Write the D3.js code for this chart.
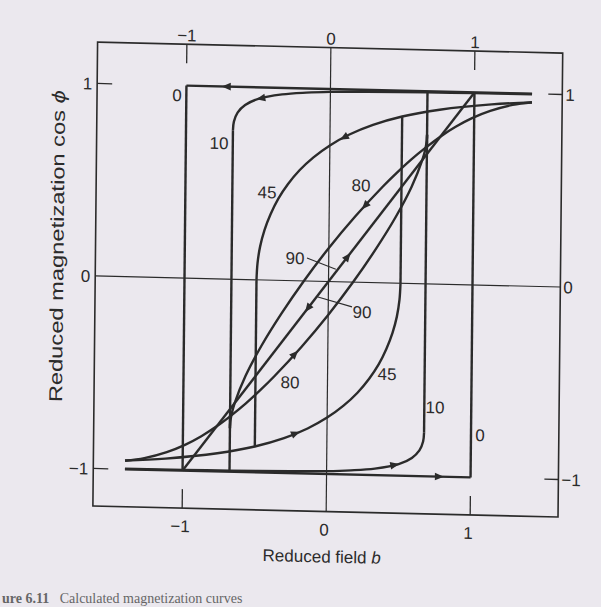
<!DOCTYPE html>
<html lang="en">
<head>
<meta charset="UTF-8">
<title>Reduced magnetization loops</title>
<style>
  body { margin: 0; background: #ebe8ee; }
  svg { display: block; }
  text { font-family: 'Liberation Sans', Arial, sans-serif; fill: #2b2b2b; }
  text.caption { font-family: 'Liberation Serif', 'DejaVu Serif', serif; fill: #666; }
</style>
</head>
<body>
<svg id="chart" width="601" height="607"></svg>
<script src="https://d3js.org/d3.v7.min.js"></script>
<script>
// tick values
const xTicks = [-1, 0, 1];
const yTicks = [-1, 0, 1];
const fieldRange = [-1.62, 1.61];
const magRange = [-1.195, 1.215];

// branches, listed in the order they are traversed  [b, cos phi]
const psi0Down = [[1.4, 1], [-1, 1]];
const psi0Up = [[-1.4, -1], [1, -1]];

const psi10Down = [[1.4, 0.9975], [0.995, 0.996], [0.666, 0.9945], [0.251, 0.99], [0, 0.985],
  [-0.168, 0.978], [-0.335, 0.966], [-0.5, 0.94], [-0.591, 0.906], [-0.643, 0.866],
  [-0.668, 0.819], [-0.674, 0.774]];
const psi10Up = [[-1.4, -0.9975], [-0.995, -0.996], [-0.666, -0.9945], [-0.251, -0.99], [0, -0.985],
  [0.168, -0.978], [0.335, -0.966], [0.5, -0.94], [0.591, -0.906], [0.643, -0.866],
  [0.668, -0.819], [0.674, -0.774]];

const psi45Down = [[1.4, 0.955], [1.12, 0.94], [0.76, 0.906], [0.5, 0.866], [0.298, 0.819],
  [0.135, 0.766], [0, 0.707], [-0.113, 0.643], [-0.209, 0.574], [-0.289, 0.5], [-0.355, 0.423],
  [-0.407, 0.342], [-0.448, 0.259], [-0.477, 0.174], [-0.494, 0.087], [-0.5, 0]];
const psi45Up = [[-1.4, -0.955], [-1.12, -0.94], [-0.76, -0.906], [-0.5, -0.866], [-0.298, -0.819],
  [-0.135, -0.766], [0, -0.707], [0.113, -0.643], [0.209, -0.574], [0.289, -0.5], [0.355, -0.423],
  [0.407, -0.342], [0.448, -0.259], [0.477, -0.174], [0.494, -0.087], [0.5, 0]];

const psi80Down = [[1.4, 0.956], [1.266, 0.94], [1.111, 0.906], [0.985, 0.866], [0.872, 0.819],
  [0.766, 0.766], [0.665, 0.707], [0.565, 0.643], [0.468, 0.574], [0.371, 0.5], [0.182, 0.342],
  [0, 0.174], [-0.171, 0], [-0.326, -0.174], [-0.461, -0.342], [-0.569, -0.5], [-0.643, -0.643],
  [-0.665, -0.707], [-0.672, -0.743], [-0.674, -0.774]];
const psi80Up = [[-1.4, -0.956], [-1.266, -0.94], [-1.111, -0.906], [-0.985, -0.866], [-0.872, -0.819],
  [-0.766, -0.766], [-0.665, -0.707], [-0.565, -0.643], [-0.468, -0.574], [-0.371, -0.5], [-0.182, -0.342],
  [0, -0.174], [0.171, 0], [0.326, 0.174], [0.461, 0.342], [0.569, 0.5], [0.643, 0.643],
  [0.665, 0.707], [0.672, 0.743], [0.674, 0.774]];

const psi90 = [[-1, -1], [1, 1]];

// irreversible jumps  [b, from, to]
const jumps = [[-1, 1, -1], [1, -1, 1], [-0.674, 0.774, -0.9945], [0.674, -0.774, 0.9945],
  [-0.5, 0, -0.866], [0.5, 0, 0.866], [-0.674, -0.774, -0.707], [0.674, 0.774, 0.707]];

// arrows: branch, field value, direction along the branch
const arrows = [[psi0Down, -0.72, 1], [psi0Up, 0.78, 1], [psi10Down, -0.48, 1], [psi10Up, 0.47, 1],
  [psi45Down, 0.1, 1], [psi45Up, -0.22, 1], [psi80Down, 0.25, 1], [psi80Up, -0.23, 1],
  [psi90, 0.13, 1], [psi90, -0.14, -1]];

// curve labels  [text, b, m]
const curveLabels = [["0", -1.065, 0.95], ["10", -0.77, 0.706], ["45", -0.433, 0.457],
  ["80", 0.219, 0.505], ["90", -0.234, 0.118], ["90", 0.235, -0.154], ["80", -0.26, -0.527],
  ["45", 0.413, -0.473], ["10", 0.749, -0.639], ["0", 1.063, -0.779]];
const leaders = [[-0.151, 0.119, 0.05, 0.065], [-0.072, -0.082, 0.165, -0.129]];

const cx = 328.5, cy = 281.5;
const x = d3.scaleLinear().domain([-1, 1]).range([cx - 144, cx + 144]);
const y = d3.scaleLinear().domain([-1, 1]).range([cy + 192.5, cy - 192.5]);

const svg = d3.select("#chart");
const ink = "#2b2b2b";

// the scanned page is slightly skewed
const g = svg.append("g")
  .attr("transform", `translate(${cx},${cy}) matrix(1,0.0237,-0.0101,1,0,0) translate(${-cx},${-cy})`);

const x0 = x(fieldRange[0]), x1 = x(fieldRange[1]);
const yTop = y(magRange[1]), yBot = y(magRange[0]);

g.append("rect")
  .attr("x", x0).attr("y", yTop)
  .attr("width", x1 - x0).attr("height", yBot - yTop)
  .attr("fill", "none").attr("stroke", ink).attr("stroke-width", 1.6);

// zero lines
g.append("line").attr("x1", x(0)).attr("x2", x(0)).attr("y1", yTop).attr("y2", yBot)
  .attr("stroke", ink).attr("stroke-width", 1.2);
g.append("line").attr("x1", x0).attr("x2", x1).attr("y1", y(0)).attr("y2", y(0))
  .attr("stroke", ink).attr("stroke-width", 1.2);

// ticks
xTicks.filter(d => d !== 0).forEach(d => {
  g.append("line").attr("x1", x(d)).attr("x2", x(d)).attr("y1", yTop).attr("y2", yTop + 19)
    .attr("stroke", ink).attr("stroke-width", 1.3);
  g.append("line").attr("x1", x(d)).attr("x2", x(d)).attr("y1", yBot).attr("y2", yBot - 19)
    .attr("stroke", ink).attr("stroke-width", 1.3);
});
yTicks.filter(d => d !== 0).forEach(d => {
  g.append("line").attr("x1", x0).attr("x2", x0 + 15).attr("y1", y(d)).attr("y2", y(d))
    .attr("stroke", ink).attr("stroke-width", 1.3);
  g.append("line").attr("x1", x1).attr("x2", x1 - 14).attr("y1", y(d)).attr("y2", y(d))
    .attr("stroke", ink).attr("stroke-width", 1.3);
});

const fmt = d => d < 0 ? "\u2212" + Math.abs(d) : String(d);
xTicks.forEach(d => {
  g.append("text").attr("x", x(d)).attr("y", yTop - 3).attr("text-anchor", "middle")
    .attr("font-size", 17).text(fmt(d));
  g.append("text").attr("x", x(d) - 2).attr("y", yBot + 24).attr("text-anchor", "middle")
    .attr("font-size", 17).text(fmt(d));
});
yTicks.forEach(d => {
  g.append("text").attr("x", x0 - 5).attr("y", y(d)).attr("dy", "0.36em").attr("text-anchor", "end")
    .attr("font-size", 17).text(fmt(d));
  g.append("text").attr("x", x1 + 3).attr("y", y(d)).attr("dy", "0.36em").attr("text-anchor", "start")
    .attr("font-size", 17).text(fmt(d));
});

// axis titles
const xt = g.append("text").attr("x", x(0) - 4).attr("y", yBot + 51).attr("text-anchor", "middle")
  .attr("font-size", 17);
xt.append("tspan").text("Reduced field ");
xt.append("tspan").attr("font-style", "italic").text("b");

const yt = g.append("text")
  .attr("transform", `translate(${x0 - 32},${y(0.15)}) rotate(-90)`)
  .attr("text-anchor", "middle").attr("font-size", 18.5)
  .attr("textLength", 312).attr("lengthAdjust", "spacingAndGlyphs");
yt.append("tspan").text("Reduced magnetization cos ");
yt.append("tspan").attr("font-style", "italic").text("\u03d5");

// curves
const line = d3.line().x(d => x(d[0])).y(d => y(d[1])).curve(d3.curveCatmullRom.alpha(0.5));
const branches = [psi0Down, psi0Up, psi10Down, psi10Up, psi45Down, psi45Up, psi80Down, psi80Up, psi90];
g.selectAll(".branch").data(branches).join("path")
  .attr("class", "branch")
  .attr("d", line)
  .attr("fill", "none").attr("stroke", ink).attr("stroke-width", 2.4)
  .attr("stroke-linejoin", "round");

g.selectAll(".jump").data(jumps).join("line")
  .attr("class", "jump")
  .attr("x1", d => x(d[0])).attr("x2", d => x(d[0]))
  .attr("y1", d => y(d[1])).attr("y2", d => y(d[2]))
  .attr("stroke", ink).attr("stroke-width", 2.4);

// arrowheads
arrows.forEach(([pts, b, dir]) => {
  let i = 0;
  for (; i < pts.length - 1; i++) {
    const a = pts[i][0], c = pts[i + 1][0];
    if ((b - a) * (b - c) <= 0) break;
  }
  const p = pts[i], q = pts[i + 1];
  const t = (b - p[0]) / (q[0] - p[0]);
  const px = x(b), py = y(p[1] + t * (q[1] - p[1]));
  let ang = Math.atan2(y(q[1]) - y(p[1]), x(q[0]) - x(p[0])) * 180 / Math.PI;
  if (dir < 0) ang += 180;
  g.append("path")
    .attr("d", "M5,0L-4,-3.8L-4,3.8Z")
    .attr("transform", `translate(${px},${py}) rotate(${ang})`)
    .attr("fill", ink);
});

// labels
g.selectAll(".lab").data(curveLabels).join("text")
  .attr("class", "lab")
  .attr("x", d => x(d[1])).attr("y", d => y(d[2])).attr("dy", "0.36em")
  .attr("text-anchor", "middle").attr("font-size", 17)
  .text(d => d[0]);

g.selectAll(".leader").data(leaders).join("line")
  .attr("class", "leader")
  .attr("x1", d => x(d[0])).attr("y1", d => y(d[1]))
  .attr("x2", d => x(d[2])).attr("y2", d => y(d[3]))
  .attr("stroke", ink).attr("stroke-width", 1.1);

// caption at the foot of the page
const cap = svg.append("text").attr("class", "caption").attr("x", 2).attr("y", 603)
  .attr("font-size", 14).attr("xml:space", "preserve");
cap.append("tspan").attr("font-weight", "bold").text("ure 6.11");
cap.append("tspan").text("   Calculated magnetization curves");
</script>
</body>
</html>
